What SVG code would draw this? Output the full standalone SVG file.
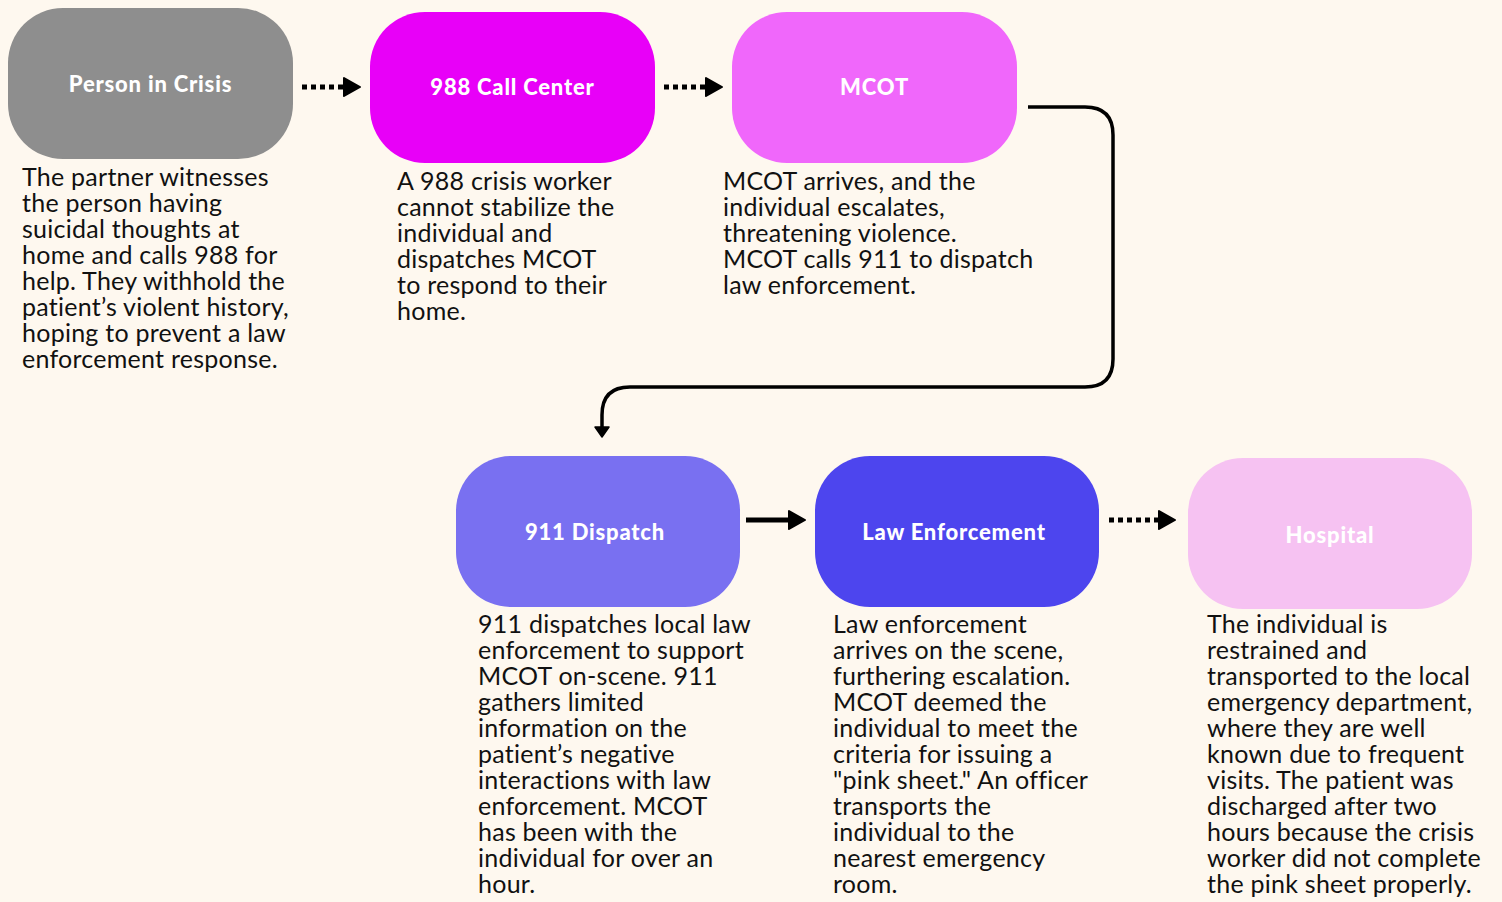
<svg xmlns="http://www.w3.org/2000/svg" width="1502" height="902" viewBox="0 0 1502 902">
<defs>
<style>
.lbl{font-family:Lato,"Open Sans",sans-serif;font-weight:900;font-size:22px;letter-spacing:0.8px;fill:#ffffff;text-anchor:middle}
.txt{font-family:Lato,"Open Sans",sans-serif;font-weight:400;font-size:25px;letter-spacing:0.25px;fill:#111111}
.dot{stroke:#000;stroke-width:5;stroke-dasharray:5 4;fill:none}
.solid{stroke:#000;stroke-width:5;fill:none}
.elbow{stroke:#000;stroke-width:3.5;fill:none;stroke-linejoin:round}
</style>
<marker id="ah" markerUnits="userSpaceOnUse" markerWidth="20" markerHeight="24" refX="1" refY="11" orient="auto">
<path d="M1,2 L17,11 L1,20 Z" fill="#000" stroke="#000" stroke-width="2" stroke-linejoin="round"/>
</marker>
<marker id="ahs" markerUnits="userSpaceOnUse" markerWidth="18" markerHeight="18" refX="1" refY="8" orient="auto">
<path d="M1,1 L11,8 L1,15 Z" fill="#000" stroke="#000" stroke-width="1.5" stroke-linejoin="round"/>
</marker>
</defs>
<rect width="1502" height="902" fill="#fef8ef"/>

<g id="connectors">
<line class="dot" x1="302" y1="87" x2="344" y2="87" marker-end="url(#ah)"/>
<line class="dot" x1="664" y1="87" x2="706" y2="87" marker-end="url(#ah)"/>
<path class="elbow" d="M1028,107 H1085 Q1113,107 1113,135 V359 Q1113,387 1085,387 H630 Q602,387 602,415 V427" marker-end="url(#ahs)"/>
<line class="solid" x1="746" y1="520" x2="789" y2="520" marker-end="url(#ah)"/>
<line class="dot" x1="1109" y1="520" x2="1159" y2="520" marker-end="url(#ah)"/>
</g>

<g id="node-person">
<rect x="8" y="8" width="285" height="151" rx="55" fill="#8e8e8e"/>
<text class="lbl" x="150.5" y="92">Person in Crisis</text>
<text class="txt" x="22" y="186"><tspan x="22" y="186">The partner witnesses</tspan><tspan x="22" y="212">the person having</tspan><tspan x="22" y="238">suicidal thoughts at</tspan><tspan x="22" y="264">home and calls 988 for</tspan><tspan x="22" y="290">help. They withhold the</tspan><tspan x="22" y="316">patient’s violent history,</tspan><tspan x="22" y="342">hoping to prevent a law</tspan><tspan x="22" y="368">enforcement response.</tspan></text>
</g>

<g id="node-988">
<rect x="370" y="12" width="285" height="151" rx="55" fill="#e800f8"/>
<text class="lbl" x="512.5" y="95">988 Call Center</text>
<text class="txt" x="397" y="190"><tspan x="397" y="190">A 988 crisis worker</tspan><tspan x="397" y="216">cannot stabilize the</tspan><tspan x="397" y="242">individual and</tspan><tspan x="397" y="268">dispatches MCOT</tspan><tspan x="397" y="294">to respond to their</tspan><tspan x="397" y="320">home.</tspan></text>
</g>

<g id="node-mcot">
<rect x="732" y="12" width="285" height="151" rx="55" fill="#f067fb"/>
<text class="lbl" x="874.5" y="95">MCOT</text>
<text class="txt" x="723" y="190"><tspan x="723" y="190">MCOT arrives, and the</tspan><tspan x="723" y="216">individual escalates,</tspan><tspan x="723" y="242">threatening violence.</tspan><tspan x="723" y="268">MCOT calls 911 to dispatch</tspan><tspan x="723" y="294">law enforcement.</tspan></text>
</g>

<g id="node-911">
<rect x="456" y="456" width="284" height="151" rx="55" fill="#7970f1"/>
<text class="lbl" x="595" y="540">911 Dispatch</text>
<text class="txt" x="478" y="633"><tspan x="478" y="633">911 dispatches local law</tspan><tspan x="478" y="659">enforcement to support</tspan><tspan x="478" y="685">MCOT on-scene. 911</tspan><tspan x="478" y="711">gathers limited</tspan><tspan x="478" y="737">information on the</tspan><tspan x="478" y="763">patient’s negative</tspan><tspan x="478" y="789">interactions with law</tspan><tspan x="478" y="815">enforcement. MCOT</tspan><tspan x="478" y="841">has been with the</tspan><tspan x="478" y="867">individual for over an</tspan><tspan x="478" y="893">hour.</tspan></text>
</g>

<g id="node-law">
<rect x="815" y="456" width="284" height="151" rx="55" fill="#4d45ee"/>
<text class="lbl" x="954" y="540">Law Enforcement</text>
<text class="txt" x="833" y="633"><tspan x="833" y="633">Law enforcement</tspan><tspan x="833" y="659">arrives on the scene,</tspan><tspan x="833" y="685">furthering escalation.</tspan><tspan x="833" y="711">MCOT deemed the</tspan><tspan x="833" y="737">individual to meet the</tspan><tspan x="833" y="763">criteria for issuing a</tspan><tspan x="833" y="789">"pink sheet." An officer</tspan><tspan x="833" y="815">transports the</tspan><tspan x="833" y="841">individual to the</tspan><tspan x="833" y="867">nearest emergency</tspan><tspan x="833" y="893">room.</tspan></text>
</g>

<g id="node-hospital">
<rect x="1188" y="458" width="284" height="151" rx="55" fill="#f6c2f2"/>
<text class="lbl" x="1330" y="543">Hospital</text>
<text class="txt" x="1207" y="633"><tspan x="1207" y="633">The individual is</tspan><tspan x="1207" y="659">restrained and</tspan><tspan x="1207" y="685">transported to the local</tspan><tspan x="1207" y="711">emergency department,</tspan><tspan x="1207" y="737">where they are well</tspan><tspan x="1207" y="763">known due to frequent</tspan><tspan x="1207" y="789">visits. The patient was</tspan><tspan x="1207" y="815">discharged after two</tspan><tspan x="1207" y="841">hours because the crisis</tspan><tspan x="1207" y="867">worker did not complete</tspan><tspan x="1207" y="893">the pink sheet properly.</tspan></text>
</g>
</svg>
